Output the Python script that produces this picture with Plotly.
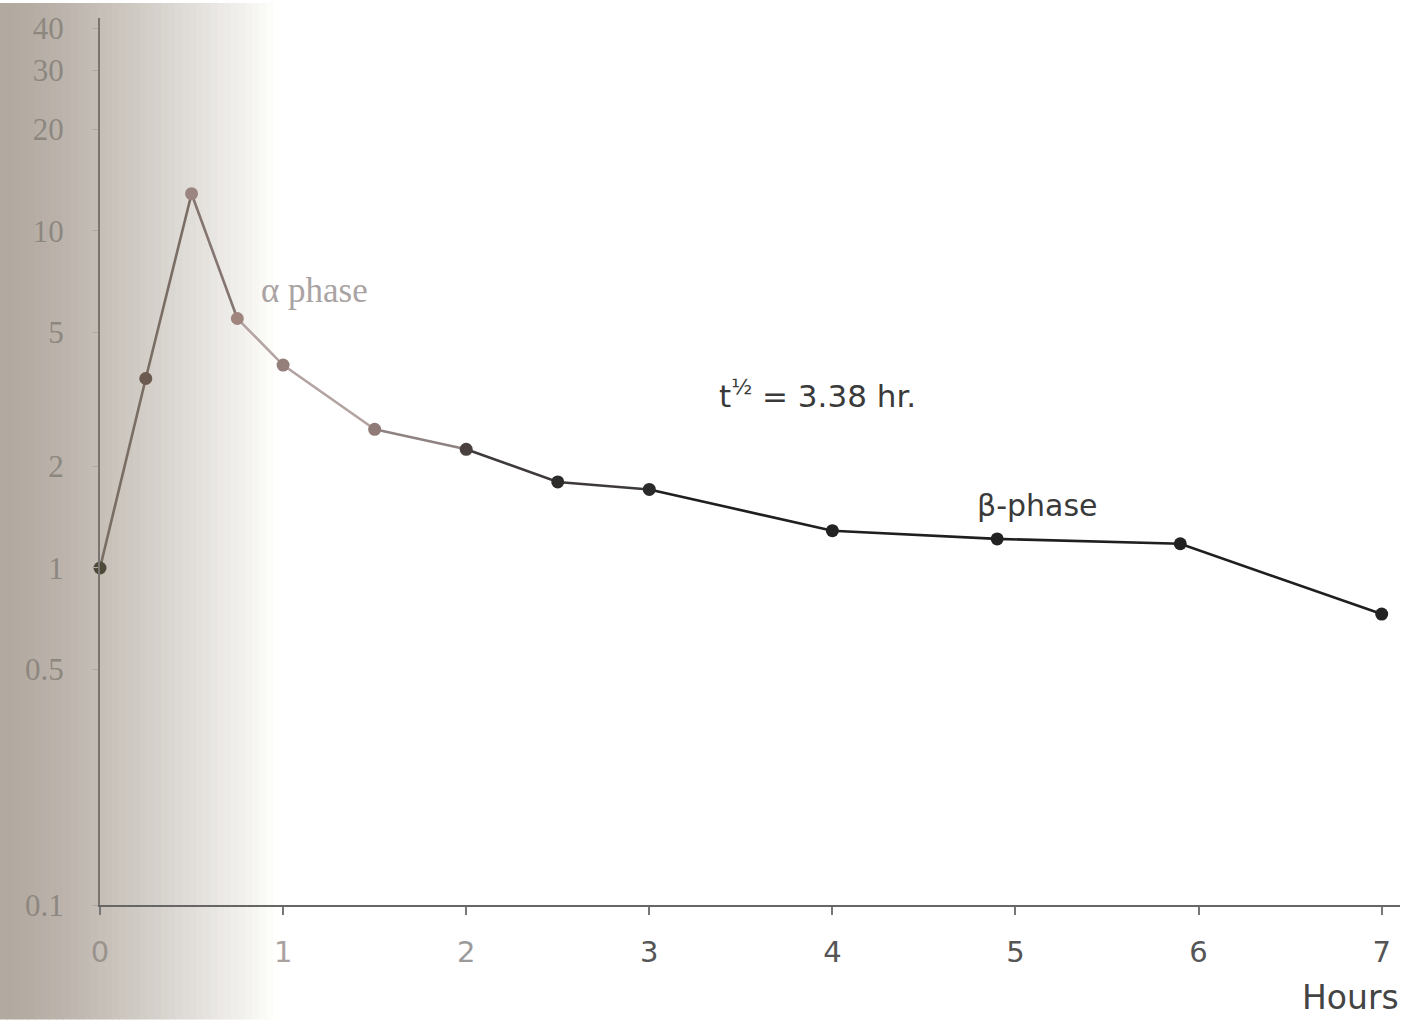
import plotly.graph_objects as go

# ---- data ----
hours = [0, 0.25, 0.5, 0.75, 1.0, 1.5, 2.0, 2.5, 3.0, 4.0, 4.9, 5.9, 7.0]
conc = [1.0, 3.65, 12.9, 5.5, 4.0, 2.58, 2.25, 1.80, 1.71, 1.29, 1.22, 1.18, 0.73]

y_tickvals = [0.1, 0.5, 1, 2, 5, 10, 20, 30, 40]
y_ticktext = ["0.1", "0.5", "1", "2", "5", "10", "20", "30", "40"]
x_tickvals = [0, 1, 2, 3, 4, 5, 6, 7]
x_ticktext = ["0", "1", "2", "3", "4", "5", "6", "7"]

# ---- styling ----
W, H = 1411, 1020
ML, MR, MT, MB = 100, 11, 15, 115
PW = W - ML - MR
PH = H - MT - MB

seg_styles = [(0, 2, "#7a6e64"), (2, 3, "#857570"), (3, 5, "#b3a4a2"),
              (5, 6, "#8e8282"), (6, 8, "#3e3a3a"), (8, 12, "#1f1f1f")]
marker_colors = ["#4d4a3a", "#6b5a4f", "#9a8580", "#a0857f", "#957f7a",
                 "#8f7a78", "#4a4040", "#2e2b2b", "#2a2a2a", "#222222",
                 "#222222", "#222222", "#222222"]
tick_colors = ["#9a928c", "#a8a2a0", "#9a9a9a", "#555", "#555", "#555", "#555", "#555"]

fig = go.Figure()
for s, e, c in seg_styles:
    fig.add_trace(go.Scatter(x=hours[s:e + 1], y=conc[s:e + 1], mode="lines",
                             line=dict(color=c, width=2.6), hoverinfo="skip",
                             showlegend=False, cliponaxis=False))
fig.add_trace(go.Scatter(x=hours, y=conc, mode="markers",
                         marker=dict(color=marker_colors, size=13, line=dict(width=0)),
                         showlegend=False, cliponaxis=False))

# scanned page shadow on the left (horizontal gradient made of thin bands)
shapes = []
n = 40
for i in range(n):
    px0 = i * 7
    px1 = px0 + 8
    t = (i / (n - 1)) ** 1.3
    r = int(178 + (255 - 178) * t)
    g = int(169 + (255 - 169) * t)
    b = int(160 + (253 - 160) * t)
    shapes.append(dict(type="rect", xref="paper", yref="paper",
                       x0=(px0 - ML) / PW, x1=(px1 - ML) / PW,
                       y0=-MB / PH, y1=1 + MT / PH,
                       fillcolor=f"rgb({r},{g},{b})", line=dict(width=0),
                       layer="below"))

fig.update_layout(
    width=W, height=H,
    margin=dict(l=ML, r=MR, t=MT, b=MB),
    paper_bgcolor="white", plot_bgcolor="rgba(0,0,0,0)",
    shapes=shapes,
    showlegend=False,
)

fig.update_xaxes(
    range=[0, 7.1], showgrid=False, zeroline=False,
    showline=True, linecolor="#666", linewidth=2,
    ticks="outside", ticklen=8, tickwidth=1.5, tickcolor="#777",
    tickvals=x_tickvals,
    ticktext=[f"<span style='color:{c}'>{t}</span>" for t, c in zip(x_ticktext, tick_colors)],
    tickfont=dict(family="DejaVu Sans", size=29, color="#555"),
    ticklabelstandoff=12,
)
fig.update_yaxes(
    type="log", range=[-1, 1.632], showgrid=False, zeroline=False,
    showline=True, linecolor="#7a7570", linewidth=2,
    ticks="outside", ticklen=6, tickwidth=1, tickcolor="#b0a8a0",
    tickvals=y_tickvals, ticktext=y_ticktext,
    tickfont=dict(family="Liberation Serif", size=31, color="#8d8780"),
    ticklabelstandoff=22,
)

fig.add_annotation(x=1.17, y=0.824, text="α phase", showarrow=False,
                   xanchor="center", yanchor="middle",
                   font=dict(family="Liberation Serif", size=35, color="#aaa3a3"))
fig.add_annotation(x=3.92, y=0.515, text="t<sup>½</sup> = 3.38 hr.", showarrow=False,
                   xanchor="center", yanchor="middle",
                   font=dict(family="DejaVu Sans", size=31, color="#3a3a3a"))
fig.add_annotation(x=5.12, y=0.185, text="β-phase", showarrow=False,
                   xanchor="center", yanchor="middle",
                   font=dict(family="DejaVu Sans", size=30, color="#3a3a3a"))
fig.add_annotation(xref="paper", yref="paper", x=(1350 - ML) / PW, y=(905 - 998) / PH,
                   text="Hours", showarrow=False, xanchor="center", yanchor="middle",
                   font=dict(family="DejaVu Sans", size=33, color="#444"))

fig.write_html("out.html", config={"displayModeBar": False},
               post_script="document.body.style.margin='0';")
